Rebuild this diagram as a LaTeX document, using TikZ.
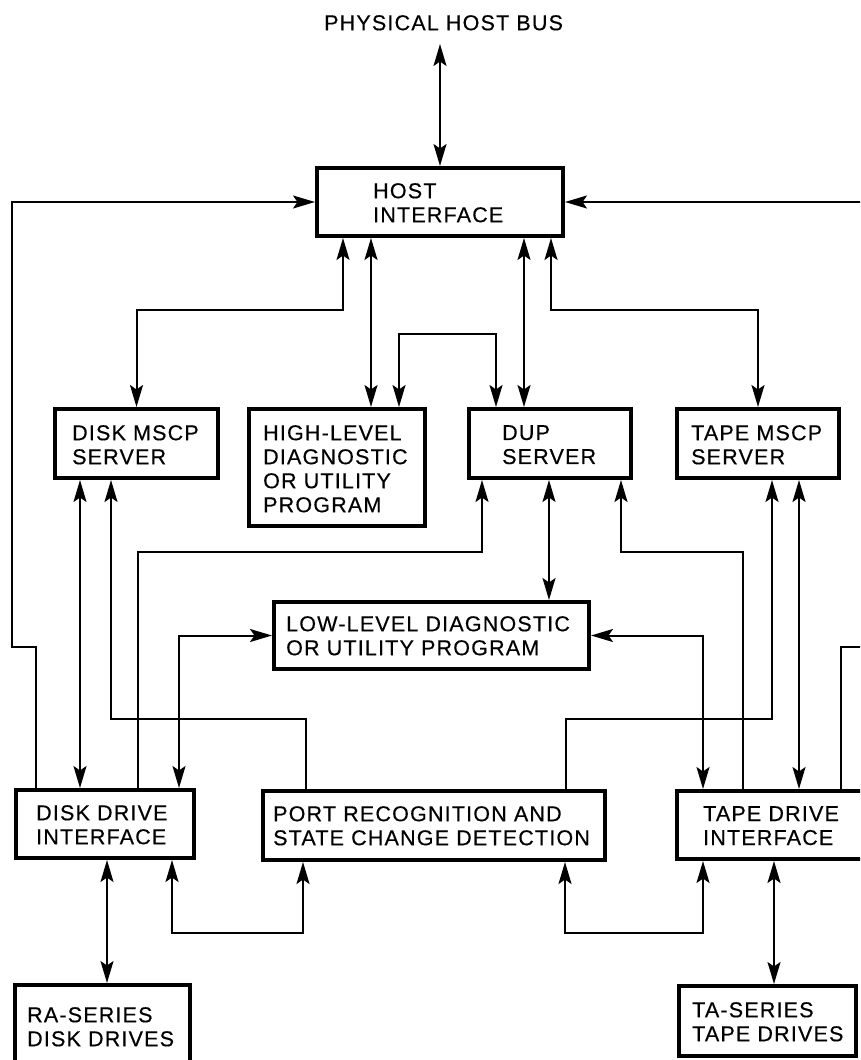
\documentclass[tikz,border=0pt]{standalone}
\usepackage{fontspec}
\setmainfont{Liberation Sans}[LetterSpace=5.5,FakeBold=0.4]
\usetikzlibrary{arrows.meta}
\begin{document}
\begin{tikzpicture}[x=1pt,y=-1pt,
  >={Stealth[length=22pt,width=13pt,inset=4.5pt]},
  blk/.style={draw, line width=4pt, inner sep=0pt},
  lbl/.style={anchor=north west, inner sep=0pt, align=left,
              font=\fontsize{21.5}{24}\selectfont},
  link/.style={line width=2pt}]
\useasboundingbox (0,0) rectangle (860,1060);
\clip (0,0) rectangle (860,1060);

% blocks
\node[blk, minimum width=246pt, minimum height=68pt]  (host)   at (440,202)     {};
\node[blk, minimum width=163pt, minimum height=69pt]  (dmscp)  at (136.5,443.5) {};
\node[blk, minimum width=176pt, minimum height=117pt] (hilev)  at (337,467.5)   {};
\node[blk, minimum width=162pt, minimum height=69pt]  (dup)    at (550,443.5)   {};
\node[blk, minimum width=162pt, minimum height=69pt]  (tmscp)  at (758,443.5)   {};
\node[blk, minimum width=315pt, minimum height=67pt]  (lowlev) at (431.5,635.5) {};
\node[blk, minimum width=178pt, minimum height=68pt]  (ddi)    at (105,824)     {};
\node[blk, minimum width=342pt, minimum height=69pt]  (port)   at (434,825.5)   {};
\node[blk, minimum width=206pt, minimum height=68pt]  (tdi)    at (780,825)     {};
\node[blk, minimum width=175pt, minimum height=103pt] (ra)     at (102.5,1036.5){};
\node[blk, minimum width=177pt, minimum height=70pt]  (ta)     at (767.5,1021)  {};

% labels
\node[lbl] (bus)      at (324,15)  {PHYSICAL HOST BUS};
\node[lbl] (host-t)   at (373,183) {HOST\\INTERFACE};
\node[lbl] (dmscp-t)  at (72,425)  {DISK MSCP\\SERVER};
\node[lbl] (hilev-t)  at (263,425) {HIGH-LEVEL\\DIAGNOSTIC\\OR UTILITY\\PROGRAM};
\node[lbl] (dup-t)    at (502,425) {DUP\\SERVER};
\node[lbl] (tmscp-t)  at (691,425) {TAPE MSCP\\SERVER};
\node[lbl] (lowlev-t) at (286,616) {LOW-LEVEL DIAGNOSTIC\\OR UTILITY PROGRAM};
\node[lbl] (ddi-t)    at (36,805)  {DISK DRIVE\\INTERFACE};
\node[lbl] (port-t)   at (273,806) {PORT RECOGNITION AND\\STATE CHANGE DETECTION};
\node[lbl] (tdi-t)    at (703,806) {TAPE DRIVE\\INTERFACE};
\node[lbl] (ra-t)     at (27,1007) {RA-SERIES\\DISK DRIVES};
\node[lbl] (ta-t)     at (692,1002){TA-SERIES\\TAPE DRIVES};

\coordinate (busend) at (440,44);

% host bus
\draw[link,<->] (host.north) -- (busend);

% outer return paths into the host interface
\draw[link,->] ([xshift=-69pt]ddi.north) |- (12,647) |- (host.west);
\draw[link,->] ([xshift=61pt]tdi.north) |- (884,647) |- (host.east);

% host interface to servers
\draw[link,<->] ([xshift=-97pt]host.south) -- ++(0,72) -| (dmscp.north);
\draw[link,<->] ([xshift=-69pt]host.south) -- ([xshift=34pt]hilev.north);
\draw[link,<->] ([xshift=84pt]host.south) -- ([xshift=-26pt]dup.north);
\draw[link,<->] ([xshift=111pt]host.south) -- ++(0,72) -| (tmscp.north);
\draw[link,<->] ([xshift=62pt]hilev.north) -- ++(0,-73) -| ([xshift=-54pt]dup.north);

% servers to drive interfaces
\draw[link,<->] ([xshift=-56.5pt]dmscp.south) -- ([xshift=-25pt]ddi.north);
\draw[link,->] ([xshift=-128pt]port.north) -- ++(0,-70) -| ([xshift=-25.5pt]dmscp.south);
\draw[link,->] ([xshift=33pt]ddi.north) -- ++(0,-236) -| ([xshift=-68pt]dup.south);
\draw[link,<->] ([xshift=-1pt]dup.south) -- ([xshift=117.5pt]lowlev.north);
\draw[link,->] ([xshift=-37pt]tdi.north) -- ++(0,-237) -| ([xshift=71pt]dup.south);
\draw[link,<->] ([xshift=41pt]tmscp.south) -- ([xshift=19pt]tdi.north);
\draw[link,->] ([xshift=132pt]port.north) -- ++(0,-70) -| ([xshift=14pt]tmscp.south);

% low-level program
\draw[link,<->] ([xshift=74pt]ddi.north) |- (lowlev.west);
\draw[link,<->] ([xshift=-77pt]tdi.north) |- (lowlev.east);

% bottom links
\draw[link,<->] ([xshift=2pt]ddi.south) -- ([xshift=4.5pt]ra.north);
\draw[link,<->] ([xshift=67pt]ddi.south) -- ++(0,73) -| ([xshift=-131pt]port.south);
\draw[link,<->] ([xshift=131pt]port.south) -- ++(0,71) -| ([xshift=-77pt]tdi.south);
\draw[link,<->] ([xshift=-6pt]tdi.south) -- ([xshift=6.5pt]ta.north);
\end{tikzpicture}
\end{document}
